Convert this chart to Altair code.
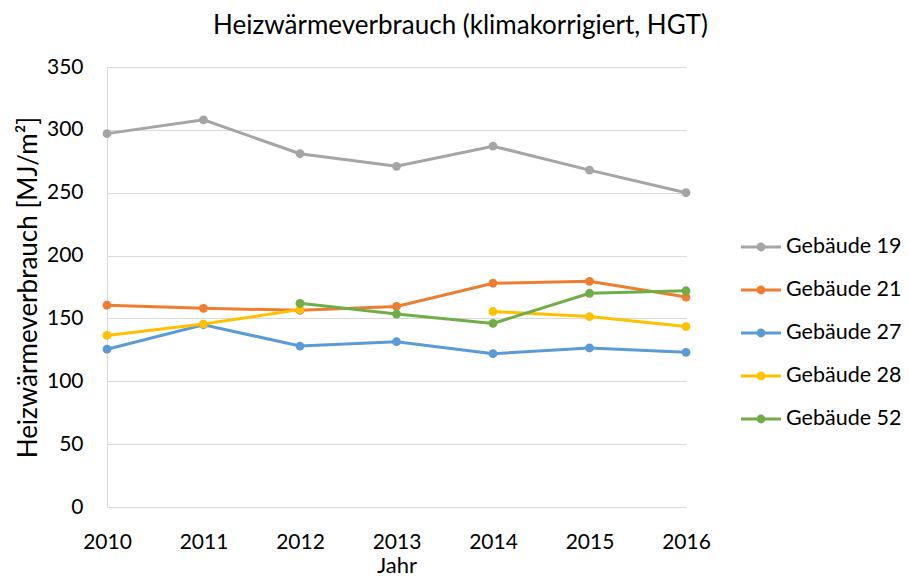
import altair as alt
import pandas as pd

years = [2010, 2011, 2012, 2013, 2014, 2015, 2016]
series_names = ["Gebäude 19", "Gebäude 21", "Gebäude 27", "Gebäude 28", "Gebäude 52"]
g19 = [297, 308, 281, 271, 287, 268, 250]
g21 = [160.5, 158, 156.5, 159.5, 178, 179.5, 167]
g27 = [125.5, 145, 128, 131.5, 122, 126.5, 123]
g28 = [136.5, 145.5, 157, None, 155.5, 151.5, 143.5]
g52 = [None, None, 162, 153.5, 146, 170, 172]
colors = ["#A5A5A5", "#ED7D31", "#5B9BD5", "#FFC000", "#70AD47"]

rows = []
for name, vals in zip(series_names, [g19, g21, g27, g28, g52]):
    seg = 0
    for yr, v in zip(years, vals):
        if v is None:
            seg += 1
            continue
        rows.append({"Jahr": yr, "Wert": v, "Serie": name, "Segment": f"{name}-{seg}"})
df = pd.DataFrame(rows)

FONT = "Lato"
color_scale = alt.Scale(domain=series_names, range=colors)

x = alt.X("Jahr:Q", scale=alt.Scale(domain=[2010, 2016], nice=False),
          axis=alt.Axis(values=years, format="d", grid=False, ticks=False, domain=False,
                        labelFlush=False, labelPadding=24, title="Jahr", titlePadding=3,
                        titleFontSize=22))
y = alt.Y("Wert:Q", scale=alt.Scale(domain=[0, 350], nice=False),
          axis=alt.Axis(values=[0, 50, 100, 150, 200, 250, 300, 350], ticks=False,
                        labelFlush=False,
                        labelPadding=24, title="Heizwärmeverbrauch [MJ/m²]", titlePadding=5,
                        titleFontSize=26))

symbol_path = ("M-1,-0.075H1V0.075H-1Z "
               "M0.22,0A0.22,0.22 0 1,1 -0.22,0A0.22,0.22 0 1,1 0.22,0Z")

legend = alt.Legend(title=None, orient="none", legendX=634, legendY=160,
                    symbolType=symbol_path, symbolSize=1600,
                    symbolOpacity=1, symbolStrokeWidth=0,
                    labelFont=FONT, labelFontSize=21.5, labelColor="#000000",
                    labelOffset=5, rowPadding=12, padding=0)

lines = alt.Chart(df).mark_line(strokeWidth=3).encode(
    x=x, y=y,
    color=alt.Color("Serie:N", scale=color_scale, legend=legend),
    detail="Segment:N",
)

points = alt.Chart(df).mark_point(filled=True, size=78, opacity=1).encode(
    x=x, y=y,
    color=alt.Color("Serie:N", scale=color_scale, legend=legend),
)

chart = alt.layer(lines, points).properties(
    width=579, height=440,
    title=alt.TitleParams("Heizwärmeverbrauch (klimakorrigiert, HGT)", anchor="middle",
                          dx=64, offset=17, font=FONT, fontSize=26, fontWeight="normal",
                          color="#000000"),
    autosize=alt.AutoSizeParams(type="none"),
    padding={"left": 99, "top": 59, "right": 215, "bottom": 71},
).configure_view(stroke=None).configure_axis(
    labelFont=FONT, labelFontSize=21, labelColor="#000000",
    titleFont=FONT, titleFontWeight="normal", titleColor="#000000",
    gridColor="#D9D9D9", gridWidth=1, domainColor="#D9D9D9", domainWidth=1,
)

chart.save("out.html", embed_options={"renderer": "svg", "actions": False})
